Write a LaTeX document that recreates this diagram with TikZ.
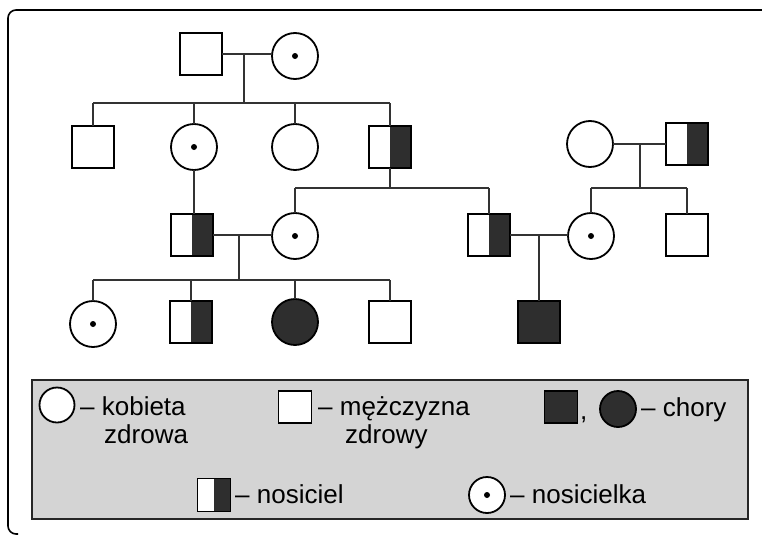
\documentclass[tikz,border=0pt]{standalone}
\usepackage{fontspec}
\setmainfont{Liberation Sans}
\definecolor{dark}{HTML}{2E2E2E}
\definecolor{legbg}{HTML}{D4D4D4}
\begin{document}
\begin{tikzpicture}[x=1pt,y=-1pt,
  sym/.style={draw=black,fill=white,line width=1.8pt,inner sep=0pt,outer sep=0pt},
  male/.style={sym,rectangle,minimum width=42pt,minimum height=42pt},
  female/.style={sym,circle,minimum size=46pt},
  carrierM/.style={male,path picture={\fill[dark] (path picture bounding box.north) rectangle (path picture bounding box.south east);}},
  carrierF/.style={female,path picture={\fill[black] (path picture bounding box.center) circle (3pt);}},
  affM/.style={male,fill=dark},
  affF/.style={female,fill=dark},
  lmale/.style={sym,rectangle,minimum width=33pt,minimum height=32pt},
  lfemale/.style={sym,circle,minimum size=35pt},
  link/.style={line width=1.1pt,black!80},
  txt/.style={anchor=base west,inner sep=0pt,font=\fontsize{26}{30}\selectfont}
]
\useasboundingbox (0,0) rectangle (762,538);
% frame
\draw[line width=1.6pt,rounded corners=8pt] (775,10) -- (8,10) -- (8,534) -- (18,534);

% generation I
\node[male] (m1) at (201,54) {};
\node[carrierF] (f1) at (295,56) {};
\draw[link] (m1.east) -- (f1.west |- m1.east);
\coordinate (d1) at (244,103);
\draw[link] (d1 |- m1.east) -- (d1);

% generation II
\node[male] (a) at (93,147) {};
\node[carrierF] (b) at (194,147) {};
\node[female] (c) at (295,147) {};
\node[carrierM] (d) at (390,147) {};
\node[female] (e) at (590,144) {};
\node[carrierM] (f) at (687,144) {};
\draw[link] (a |- d1) -- (d |- d1);
\foreach \n in {a,b,c,d} \draw[link] (\n |- d1) -- (\n.north);
\draw[link] (e.east) -- (f.west);
\coordinate (d2) at (640,188);
\draw[link] (d2 |- e.east) -- (d2);

% generation III
\node[carrierM] (g) at (192,235) {};
\node[carrierF] (h) at (295,236) {};
\node[carrierM] (i) at (489,235) {};
\node[carrierF] (j) at (591,236) {};
\node[male] (k) at (687,235) {};
\draw[link] (b.south) -- (b.south |- g.north);
\coordinate (d3) at (390,188);
\draw[link] (d.south) -- (d3);
\draw[link] (h |- d3) -- (i |- d3);
\draw[link] (h |- d3) -- (h.north);
\draw[link] (i |- d3) -- (i.north);
\draw[link] (j |- d2) -- (k |- d2);
\draw[link] (j |- d2) -- (j.north);
\draw[link] (k |- d2) -- (k.north);
\draw[link] (g.east) -- (h.west |- g.east);
\draw[link] (i.east) -- (j.west |- i.east);

% generation IV
\node[carrierF] (l) at (93,324) {};
\node[carrierM] (m) at (191,322) {};
\node[affF] (n) at (295,322) {};
\node[male] (o) at (390,322) {};
\node[affM] (p) at (539,322) {};
\coordinate (d4) at (239,280);
\draw[link] (d4 |- g.east) -- (d4);
\draw[link] (l |- d4) -- (o |- d4);
\foreach \n in {l,m,n,o} \draw[link] (\n |- d4) -- (\n.north);
\draw[link] (p |- i.east) -- (p.north);

% legend
\node[draw=black!85,line width=1.2pt,fill=legbg,rectangle,inner sep=0pt,minimum width=716pt,minimum height=139pt] (leg) at (390,449.5) {};
\node[lfemale] (lf) at (57,405) {};
\node[txt] (t1) at (80,415) {– kobieta};
\node[txt] (t2) at (104,443) {zdrowa};
\node[lmale] (lm) at (295,407) {};
\node[txt] (t3) at (318,415) {– mężczyzna};
\node[txt] (t4) at (345,443) {zdrowy};
\node[lmale,fill=dark] (la) at (561,407) {};
\node[txt] (tc) at (580,419) {,};
\node[lfemale,fill=dark,minimum size=36pt] (laf) at (618,409) {};
\node[txt] (t5) at (641,416) {– chory};
\node[lmale,carrierM,minimum width=33pt,minimum height=33pt] (lc) at (214,495) {};
\node[txt] (t6) at (235,503) {– nosiciel};
\node[lfemale,carrierF,minimum size=36pt] (lcf) at (487,495) {};
\node[txt] (t7) at (510,503) {– nosicielka};
\end{tikzpicture}
\end{document}
